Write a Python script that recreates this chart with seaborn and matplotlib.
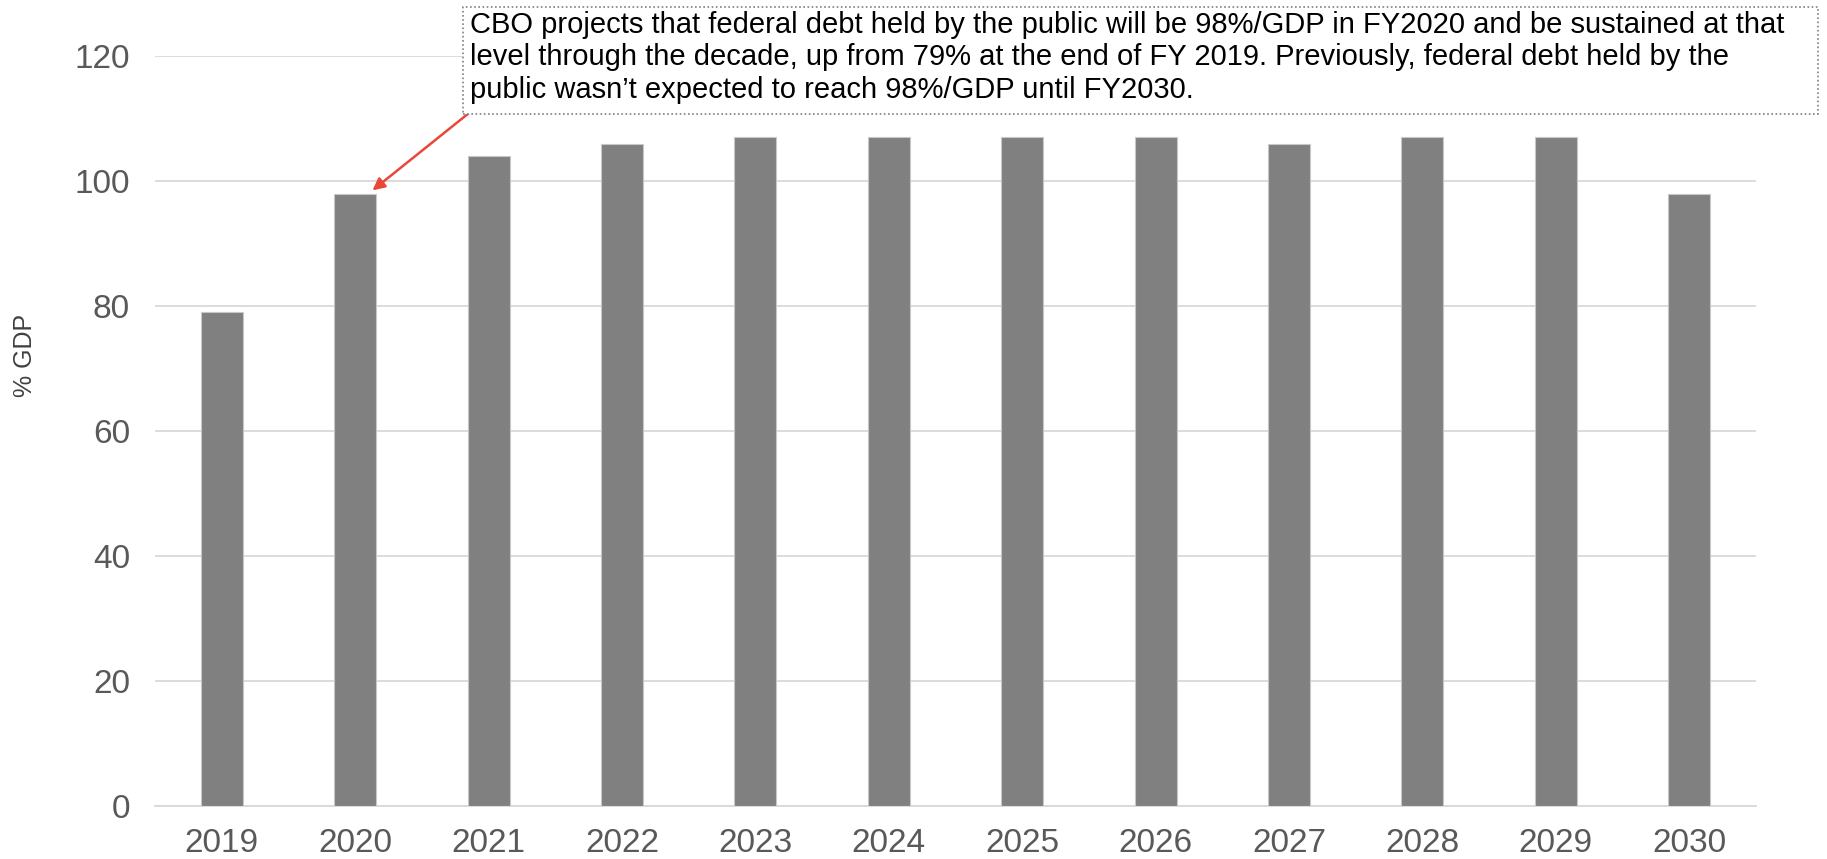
import matplotlib
matplotlib.use("Agg")
import matplotlib.pyplot as plt
import seaborn as sns
import pandas as pd
from matplotlib.patches import Rectangle

years = ["2019", "2020", "2021", "2022", "2023", "2024", "2025", "2026", "2027", "2028", "2029", "2030"]
debt_pct_gdp = [79, 98, 104, 106, 107, 107, 107, 107, 106, 107, 107, 98]
y_ticks = [0, 20, 40, 60, 80, 100, 120]
y_label = "% GDP"
note_lines = [
    "CBO projects that federal debt held by the public will be 98%/GDP in FY2020 and be sustained at that",
    "level through the decade, up from 79% at the end of FY 2019. Previously, federal debt held by the",
    "public wasn\u2019t expected to reach 98%/GDP until FY2030.",
]

sns.set_theme(style="white")
plt.rcParams['font.family'] = ['Liberation Sans', 'DejaVu Sans']

W, H = 1827, 859
fig = plt.figure(figsize=(W / 100, H / 100), dpi=100)
ax = fig.add_axes([155 / W, 1 - 806 / H, (1756 - 155) / W, (806 - 56) / H])

df = pd.DataFrame({"year": years, "value": debt_pct_gdp})
sns.barplot(data=df, x="year", y="value", color="#808080", saturation=1,
            width=0.315, edgecolor="#c8c8c8", linewidth=0.8, ax=ax, zorder=3)

ax.set_ylim(0, 120)
ax.set_xlim(-0.5, len(years) - 0.5)
ax.set_yticks(y_ticks)
ax.yaxis.grid(True, color="#d9d9d9", linewidth=1.3, zorder=0)
ax.xaxis.grid(False)
for s in ["top", "right", "left"]:
    ax.spines[s].set_visible(False)
ax.spines["bottom"].set_color("#d9d9d9")
ax.spines["bottom"].set_linewidth(1.3)
ax.tick_params(axis="both", length=0, labelsize=24, labelcolor="#595959")
ax.tick_params(axis="y", pad=18)
ax.tick_params(axis="x", pad=16)
ax.set_xlabel("")
ax.set_ylabel(y_label, fontsize=18, color="#404040")
ax.yaxis.set_label_coords(37 / W, 1 - 355 / H, transform=fig.transFigure)

# annotation box
bx0, by0, bx1, by1 = 463, 7, 1818, 114
fig.patches.append(Rectangle((bx0 / W, 1 - by1 / H), (bx1 - bx0) / W, (by1 - by0) / H,
                             transform=fig.transFigure, fill=True, facecolor="white",
                             edgecolor="#7f7f7f", linestyle=(0, (1, 1.5)), linewidth=1.2,
                             zorder=5))
fig.text(470 / W, 1 - 11 / H, "\n".join(note_lines), ha="left", va="top",
         fontsize=21, family=["Liberation Sans", "DejaVu Sans"],
         color="black", linespacing=1.2, zorder=6)

ax.annotate("", xy=(1.13, 98.5), xycoords="data",
            xytext=(469 / W, 1 - 113 / H), textcoords="figure fraction",
            arrowprops=dict(arrowstyle="-|>", color="#e8483a", lw=1.8,
                            mutation_scale=18, shrinkA=0, shrinkB=0))

fig.savefig("out.png", dpi=100)
